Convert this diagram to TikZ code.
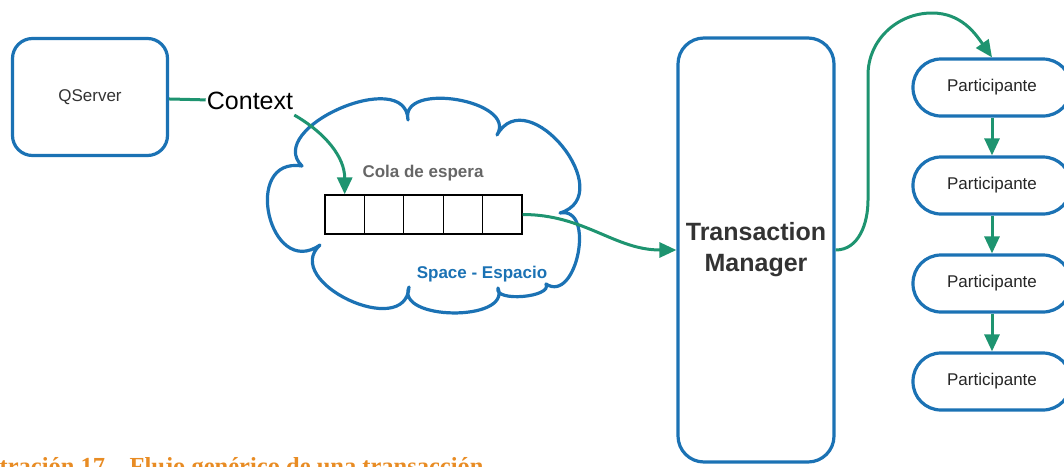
\documentclass[tikz,border=0pt]{standalone}
\usepackage{fontspec}
\setmainfont{Liberation Sans}
\newfontfamily\captionfont{Liberation Serif}
\usepackage{tikz}
\usetikzlibrary{arrows.meta, positioning, calc}
\definecolor{lucidblue}{RGB}{27,114,180}
\definecolor{flowgreen}{RGB}{30,148,112}
\definecolor{captionorange}{RGB}{232,140,36}
\tikzstyle{server} = [rectangle, rounded corners=20pt, minimum width=155pt, minimum height=117pt, text centered, draw=lucidblue, line width=3.2pt, text=black!80, font=\fontsize{17}{20}\selectfont]
\tikzstyle{manager} = [rectangle, rounded corners=26pt, minimum width=156pt, minimum height=424pt, align=center, draw=lucidblue, line width=3.2pt, text=black!80, font=\bfseries\fontsize{25}{31}\selectfont]
\tikzstyle{participant} = [rectangle, rounded corners=28pt, minimum width=158pt, minimum height=57pt, text centered, draw=lucidblue, line width=3.2pt, text=black!85, font=\fontsize{17}{20}\selectfont]
\tikzstyle{cell} = [rectangle, minimum width=39.4pt, minimum height=39pt, draw=black, line width=1.3pt]
\tikzstyle{spacecloud} = [draw=lucidblue, line width=3.2pt, line join=round]
\tikzstyle{puff} = [bend left=112]
\tikzstyle{link} = [line width=3pt, draw=flowgreen]
\tikzstyle{arrow} = [line width=3pt, draw=flowgreen, -{Triangle[length=17pt,width=15pt]}]

\begin{document}
\begin{tikzpicture}[x=1pt, y=1pt, node distance=98pt]
\useasboundingbox (0,0) rectangle (1064,-466);
\clip (0,0) rectangle (1064,-466);

\node (qserver) [server] at (90,-97) {QServer};
\node (context) [inner sep=1pt, font=\fontsize{25}{28}\selectfont] at (250,-101) {Context};

% the space, drawn puff by puff
\draw [spacecloud] (302,-166) to[puff, looseness=1.2] (408,-120)
  to[puff, looseness=1.15] (497,-135) to[puff, looseness=1.6] (560,-213)
  to[puff, looseness=1.3] (546,-284) to[puff, looseness=0.8] (498,-288)
  to[puff, looseness=1.05] (409,-287) to[puff, looseness=1.4] (320,-245)
  to[puff, looseness=1.95] (302,-166) -- cycle;
\node (cola) [text=black!60, font=\bfseries\fontsize{17}{20}\selectfont] at (423,-173) {Cola de espera};
\node (espacio) [text=lucidblue, font=\bfseries\fontsize{17}{20}\selectfont] at (482,-274) {Space - Espacio};
\foreach \i in {1,...,5}
  \node (cell\i) [cell] at (305.3+39.4*\i,-214.5) {};

\node (tm) [manager] at (756,-250) {Transaction\\Manager};

\node (part1) [participant] at (992,-87.5) {Participante};
\node (part2) [participant, below of=part1] {Participante};
\node (part3) [participant, below of=part2] {Participante};
\node (part4) [participant, below of=part3] {Participante};

\node (caption) [anchor=base west, inner sep=0, text=captionorange, font=\captionfont\bfseries\fontsize{24.5}{28}\selectfont] at (-40,-474) {Ilustración 17 – Flujo genérico de una transacción};

\draw [link] (qserver) -- (context);
\draw [arrow] ([yshift=-4pt]context.south east) to[out=-30, in=90] (cell1.north);
\draw [arrow] (cell5.east) to[out=0, in=180] (tm.west);
\draw [arrow] (tm.east) to[out=0, in=-90] (868,-200) -- (868,-75) to[out=90, in=180] (932,-13) to[out=0, in=125] (part1.north);
\draw [arrow] (part1) -- (part2);
\draw [arrow] (part2) -- (part3);
\draw [arrow] (part3) -- (part4);

\end{tikzpicture}
\end{document}
